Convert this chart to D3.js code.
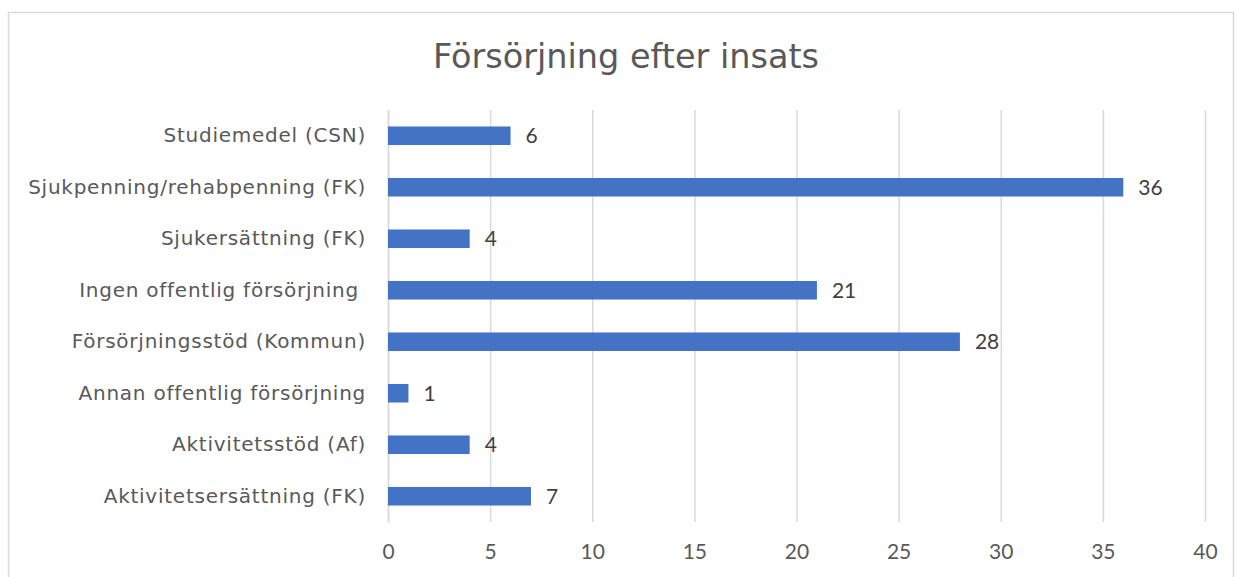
<!DOCTYPE html>
<html>
<head>
<meta charset="utf-8">
<script src="https://cdn.jsdelivr.net/npm/d3@7"></script>
<style>
  body { margin: 0; background: #fff; }
  svg { display: block; }
</style>
</head>
<body>
<div class="bar-chart-container"></div>
<script>
// Data
const categories = [
    'Studiemedel (CSN)',
    'Sjukpenning/rehabpenning (FK)',
    'Sjukersättning (FK)',
    'Ingen offentlig försörjning ',
    'Försörjningsstöd (Kommun)',
    'Annan offentlig försörjning',
    'Aktivitetsstöd (Af)',
    'Aktivitetsersättning (FK)'
];
const values = [6, 36, 4, 21, 28, 1, 4, 7];
const xTicks = [0, 5, 10, 15, 20, 25, 30, 35, 40];
const title = 'Försörjning efter insats';

const data = categories.map((c, i) => ({ category: c, value: values[i] }));

const svg_width = 1235;
const svg_height = 577;
const chart_margin = { top: 110, right: 30, bottom: 55, left: 388 };
const chart_width = 1205 - chart_margin.left;
const chart_height = svg_height - chart_margin.top - chart_margin.bottom;

const svg = d3.select('.bar-chart-container').append('svg')
    .attr('width', svg_width).attr('height', svg_height);

// outer frame
svg.append('rect')
    .attr('x', 8.5).attr('y', 12.5)
    .attr('width', 1225).attr('height', 580)
    .attr('fill', 'none').attr('stroke', '#d9d9d9').attr('stroke-width', 1.5);

svg.append('text')
    .attr('x', 626).attr('y', 68)
    .attr('text-anchor', 'middle')
    .style('font-family', 'DejaVu Sans')
    .style('font-size', '33.5px')
    .style('fill', '#595959')
    .text(title);

const g = svg.append('g')
    .attr('transform', `translate(${chart_margin.left},${chart_margin.top})`);

const xScale = d3.scaleLinear([0, 40], [0, chart_width]);
const yScale = d3.scaleBand().domain(categories)
    .range([0, chart_height]).paddingInner(0.64).paddingOuter(0.32);

// grid lines
const xAxis = d3.axisBottom(xScale).tickValues(xTicks)
    .tickSizeInner(-chart_height).tickSizeOuter(0).tickPadding(22);
const xAxisDraw = g.append('g').attr('class', 'x axis')
    .attr('transform', `translate(0,${chart_height})`)
    .call(xAxis);
xAxisDraw.select('.domain').remove();
xAxisDraw.selectAll('line').attr('stroke', '#d9d9d9').attr('stroke-width', 1.5);
xAxisDraw.selectAll('text')
    .style('font-family', 'Lato')
    .style('font-size', '21px')
    .style('fill', '#595959');

// y axis
const yAxis = d3.axisLeft(yScale).tickSize(0).tickPadding(22);
const yAxisDraw = g.append('g').attr('class', 'y axis').call(yAxis);
yAxisDraw.select('.domain').attr('stroke', '#d9d9d9').attr('stroke-width', 1.5);
yAxisDraw.selectAll('text')
    .style('font-family', 'DejaVu Sans')
    .style('font-size', '20px')
    .style('letter-spacing', '0.75px')
    .style('fill', '#595959')
    .style('white-space', 'pre');

// bars
g.append('g').attr('class', 'bars')
    .selectAll('.bar').data(data).join('rect')
    .attr('class', 'bar')
    .attr('x', 0)
    .attr('y', d => yScale(d.category))
    .attr('width', d => xScale(d.value))
    .attr('height', yScale.bandwidth())
    .style('fill', '#4472c4');

// value labels
g.append('g').attr('class', 'labels')
    .selectAll('text').data(data).join('text')
    .attr('x', d => xScale(d.value) + 15)
    .attr('y', d => yScale(d.category) + yScale.bandwidth() / 2)
    .attr('dy', '0.35em')
    .style('font-family', 'Lato')
    .style('font-size', '21px')
    .style('fill', '#404040')
    .text(d => d.value);
</script>
</body>
</html>
